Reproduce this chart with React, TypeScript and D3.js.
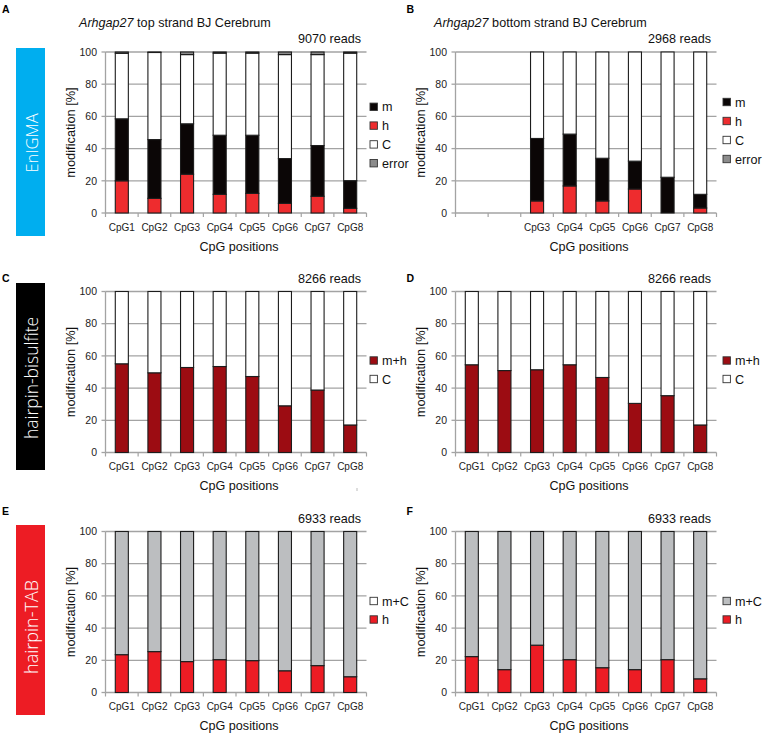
import React from "react";
import * as d3 from "d3";

const categories = ["CpG1", "CpG2", "CpG3", "CpG4", "CpG5", "CpG6", "CpG7", "CpG8"];
const yTicks = [0, 20, 40, 60, 80, 100];

// Panel A: EnIGMA top strand
const aH = [20.0, 9.1, 24.1, 11.6, 12.2, 6.0, 10.4, 2.9];
const aM = [38.5, 36.5, 31.3, 36.7, 36.1, 27.8, 31.5, 17.2];
const aC = [40.7, 54.1, 43.0, 51.0, 51.0, 64.6, 56.5, 79.2];
const aErr = [0.8, 0.3, 1.6, 0.7, 0.7, 1.6, 1.6, 0.7];

// Panel B: EnIGMA bottom strand (CpG1, CpG2 not covered)
const bH = [null, null, 7.5, 16.8, 7.5, 14.9, 0, 3.1];
const bM = [null, null, 38.8, 32.2, 26.5, 17.3, 22.2, 8.5];
const bC = [null, null, 53.7, 51.0, 66.0, 67.8, 77.8, 88.4];
const bErr = [null, null, 0, 0, 0, 0, 0, 0];
const bLabels = ["", "", "CpG3", "CpG4", "CpG5", "CpG6", "CpG7", "CpG8"];

// Panel C / D: hairpin-bisulfite m+h
const cMH = [55.1, 49.5, 52.8, 53.4, 47.2, 29.0, 38.8, 17.1];
const dMH = [54.5, 50.9, 51.4, 54.5, 46.6, 30.5, 35.3, 17.1];

// Panel E / F: hairpin-TAB h
const eH = [23.5, 25.4, 19.2, 20.4, 19.8, 13.5, 16.7, 9.8];
const fH = [22.3, 14.2, 29.4, 20.4, 15.4, 14.2, 20.4, 8.5];

const COL = {
  m: "#0b0606",
  h: "#ee2c2e",
  C: "#ffffff",
  err: "#8c8c8c",
  mh: "#9c0c12",
  mC: "#bcbec0",
  hTab: "#ed1c24",
};

const FONT = "'Liberation Sans', Arial, Helvetica, sans-serif";

type Layer = { key: string; color: string; values: (number | null)[] };
type LegendItem = { label: string; color: string };

function Panel(props: {
  x0: number;
  y0: number;
  w: number;
  h: number;
  layers: Layer[];
  labels: string[];
  legend: LegendItem[];
  legendX: number;
  legendY: number;
  legendStep: number;
  reads: string;
  title?: string;
  titleX?: number;
}) {
  const { x0, y0, w, h, layers, labels, legend, legendX, legendY, legendStep, reads, title, titleX } = props;
  const x = d3.scaleBand<string>().domain(categories).range([x0, x0 + w]).paddingInner(0.6).paddingOuter(0.3);
  const y = d3.scaleLinear().domain([0, 100]).range([y0 + h, y0]);
  const step = x.step();
  const rows = categories.map((c, i) => {
    const r: any = { cat: c, valid: layers[0].values[i] !== null };
    layers.forEach((l) => (r[l.key] = l.values[i] ?? 0));
    return r;
  });
  const stack = d3.stack<any>().keys(layers.map((l) => l.key));
  const series = stack(rows);
  return (
    <g>
      {title && (
        <text x={titleX} y={27} fontFamily={FONT} fontSize={12.6} fill="#111">
          <tspan fontStyle="italic">Arhgap27</tspan>
          <tspan>{" " + title}</tspan>
        </text>
      )}
      <text x={x0 + w - 5.5} y={y0 - 9} textAnchor="end" fontFamily={FONT} fontSize={12.6} fill="#111">
        {reads}
      </text>
      {yTicks.map((t) => (
        <g key={t}>
          <line x1={x0} x2={x0 + w} y1={y(t)} y2={y(t)} stroke="#a3a3a3" strokeWidth={1.3} />
          <line x1={x0 - 4} x2={x0} y1={y(t)} y2={y(t)} stroke="#a3a3a3" strokeWidth={1.3} />
          <text x={x0 - 8.5} y={y(t) + 3.7} textAnchor="end" fontFamily={FONT} fontSize={10.5} fill="#222">
            {t}
          </text>
        </g>
      ))}
      <line x1={x0} x2={x0} y1={y0} y2={y0 + h} stroke="#a3a3a3" strokeWidth={1.3} />
      {d3.range(categories.length + 1).map((i) => (
        <line key={i} x1={x0 + i * step} x2={x0 + i * step} y1={y0 + h} y2={y0 + h + 4} stroke="#a3a3a3" strokeWidth={1.2} />
      ))}
      {series.map((s, si) =>
        s.map((d, i) =>
          rows[i].valid && d[1] - d[0] > 0 ? (
            <rect
              key={si + "-" + i}
              x={x(categories[i])!}
              width={x.bandwidth()}
              y={y(d[1])}
              height={y(d[0]) - y(d[1])}
              fill={layers[si].color}
              stroke="#1c1c1c"
              strokeWidth={1.1}
            />
          ) : null
        )
      )}
      {labels.map((lab, i) => (
        <text
          key={i}
          x={x(categories[i])! + x.bandwidth() / 2}
          y={y0 + h + 17.5}
          textAnchor="middle"
          fontFamily={FONT}
          fontSize={10}
          fill="#222"
        >
          {lab}
        </text>
      ))}
      <text
        transform={`translate(${x0 - 31},${y0 + h / 2}) rotate(-90)`}
        textAnchor="middle"
        fontFamily={FONT}
        fontSize={12.8}
        fill="#111"
      >
        modification [%]
      </text>
      <text x={x0 + w / 2 + 3} y={y0 + h + 37.5} textAnchor="middle" fontFamily={FONT} fontSize={12.6} fill="#111">
        CpG positions
      </text>
      {legend.map((it, i) => (
        <g key={it.label}>
          <rect
            x={legendX}
            y={legendY + i * legendStep - 3.7}
            width={7.4}
            height={7.4}
            fill={it.color}
            stroke="#333"
            strokeWidth={0.9}
          />
          <text x={legendX + 12} y={legendY + i * legendStep + 4.5} fontFamily={FONT} fontSize={12.6} fill="#111">
            {it.label}
          </text>
        </g>
      ))}
    </g>
  );
}

const SideBox = (p: { y: number; h: number; color: string; label: string; size: number; cy: number }) => (
  <g>
    <rect x={16} y={p.y} width={29} height={p.h} fill={p.color} />
    <text
      transform={`translate(31,${p.cy}) rotate(-90)`}
      textAnchor="middle"
      dominantBaseline="central"
      fontFamily="'Open Sans', 'Liberation Sans', sans-serif"
      fontWeight={300}
      fontSize={p.size}
      fill="#ffffff"
    >
      {p.label}
    </text>
  </g>
);

const Letter = (p: { x: number; y: number; t: string }) => (
  <text x={p.x} y={p.y} fontFamily={FONT} fontWeight="bold" fontSize={10.5} fill="#000">
    {p.t}
  </text>
);

export default function App() {
  const W = 764;
  const H = 736;
  const LX = 105.5;
  const RX = 455.5;
  const PW = 261;
  const PH = 161;
  const tops = [52, 291.5, 531.5];
  const enigmaLegend = [
    { label: "m", color: COL.m },
    { label: "h", color: COL.h },
    { label: "C", color: COL.C },
    { label: "error", color: COL.err },
  ];
  const bisLegend = [
    { label: "m+h", color: COL.mh },
    { label: "C", color: COL.C },
  ];
  const cRest = cMH.map((v) => 100 - v);
  const dRest = dMH.map((v) => 100 - v);
  const eRest = eH.map((v) => 100 - v);
  const fRest = fH.map((v) => 100 - v);
  return (
    <svg width={W} height={H} style={{ position: "absolute", left: 0, top: 0, background: "#fff" }}>
      <rect width={W} height={H} fill="#fff" />
      <Letter x={2} y={12.5} t="A" />
      <Letter x={406.5} y={12.5} t="B" />
      <Letter x={2} y={281.5} t="C" />
      <Letter x={406.5} y={281.5} t="D" />
      <Letter x={2} y={515} t="E" />
      <Letter x={406.5} y={515} t="F" />
      <SideBox y={48} h={188} color="#00aeef" label="EnIGMA" size={16.5} cy={143} />
      <SideBox y={283} h={187} color="#000000" label="hairpin-bisulfite" size={17.5} cy={378} />
      <SideBox y={525} h={190} color="#ed1c24" label="hairpin-TAB" size={18} cy={627} />

      <Panel
        x0={LX}
        y0={tops[0]}
        w={PW}
        h={PH}
        layers={[
          { key: "h", color: COL.h, values: aH },
          { key: "m", color: COL.m, values: aM },
          { key: "C", color: COL.C, values: aC },
          { key: "err", color: COL.err, values: aErr },
        ]}
        labels={categories}
        legend={enigmaLegend}
        legendX={370}
        legendY={106.8}
        legendStep={18.8}
        reads="9070 reads"
        title="top strand BJ Cerebrum"
        titleX={79}
      />
      <Panel
        x0={RX}
        y0={tops[0]}
        w={PW}
        h={PH}
        layers={[
          { key: "h", color: COL.h, values: bH },
          { key: "m", color: COL.m, values: bM },
          { key: "C", color: COL.C, values: bC },
          { key: "err", color: COL.err, values: bErr },
        ]}
        labels={bLabels}
        legend={enigmaLegend}
        legendX={723}
        legendY={102}
        legendStep={19}
        reads="2968 reads"
        title="bottom strand BJ Cerebrum"
        titleX={434}
      />
      <Panel
        x0={LX}
        y0={tops[1]}
        w={PW}
        h={PH}
        layers={[
          { key: "mh", color: COL.mh, values: cMH },
          { key: "C", color: COL.C, values: cRest },
        ]}
        labels={categories}
        legend={bisLegend}
        legendX={370}
        legendY={360.5}
        legendStep={18.5}
        reads="8266 reads"
      />
      <Panel
        x0={RX}
        y0={tops[1]}
        w={PW}
        h={PH}
        layers={[
          { key: "mh", color: COL.mh, values: dMH },
          { key: "C", color: COL.C, values: dRest },
        ]}
        labels={categories}
        legend={bisLegend}
        legendX={723}
        legendY={360.5}
        legendStep={18.5}
        reads="8266 reads"
      />
      <Panel
        x0={LX}
        y0={tops[2]}
        w={PW}
        h={PH}
        layers={[
          { key: "h", color: COL.hTab, values: eH },
          { key: "mC", color: COL.mC, values: eRest },
        ]}
        labels={categories}
        legend={[
          { label: "m+C", color: COL.C },
          { label: "h", color: COL.hTab },
        ]}
        legendX={370}
        legendY={601}
        legendStep={18.5}
        reads="6933 reads"
      />
      <Panel
        x0={RX}
        y0={tops[2]}
        w={PW}
        h={PH}
        layers={[
          { key: "h", color: COL.hTab, values: fH },
          { key: "mC", color: COL.mC, values: fRest },
        ]}
        labels={categories}
        legend={[
          { label: "m+C", color: COL.mC },
          { label: "h", color: COL.hTab },
        ]}
        legendX={723}
        legendY={601}
        legendStep={18.5}
        reads="6933 reads"
      />
      <line x1={357} x2={357} y1={488} y2={491} stroke="#bbbbbb" strokeWidth={1} />
    </svg>
  );
}
